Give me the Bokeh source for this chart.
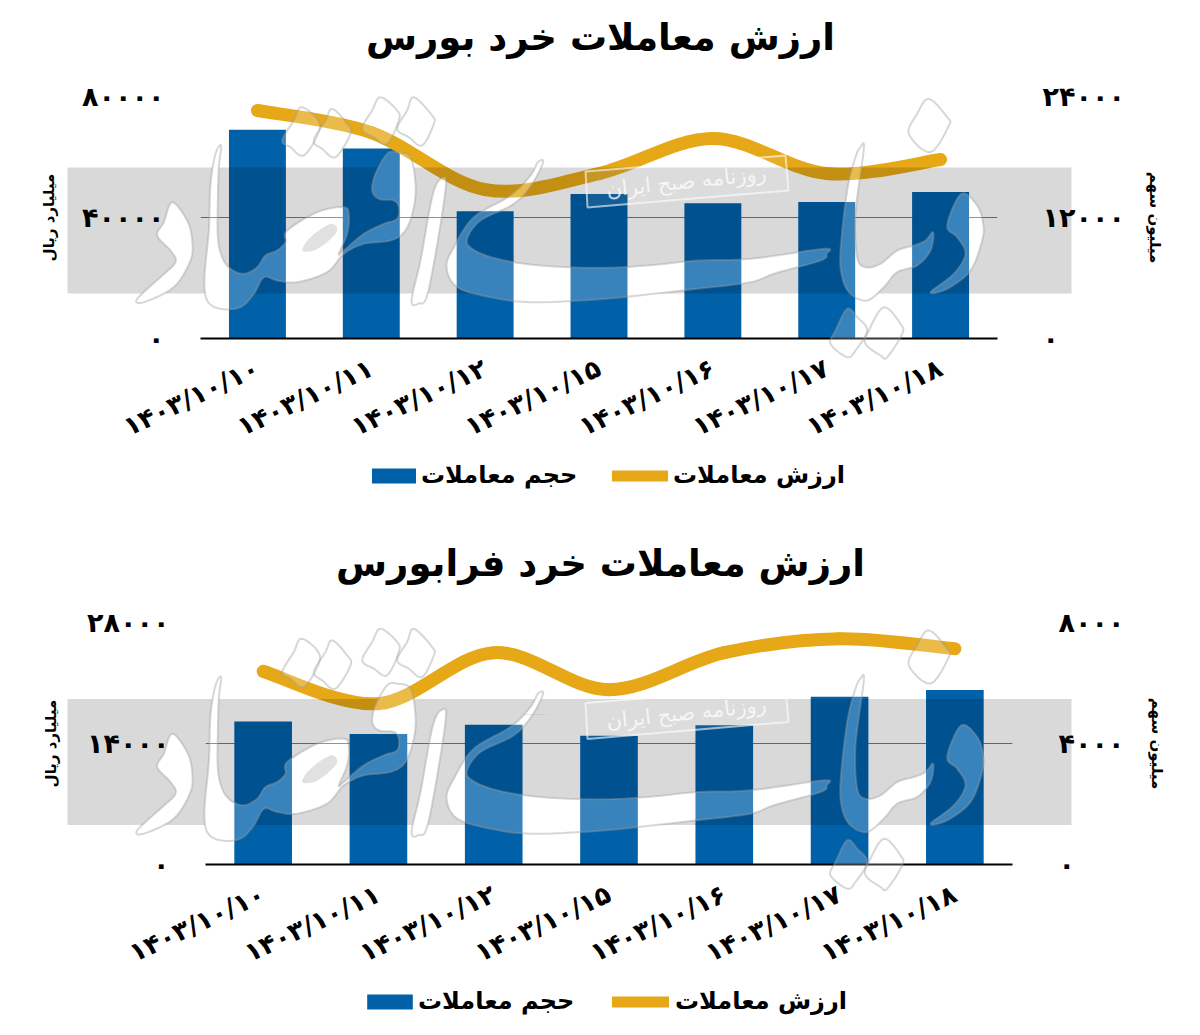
from bokeh.plotting import figure
from bokeh.embed import file_html
from bokeh.resources import INLINE
from bokeh.models import (Range1d, LinearAxis, FixedTicker, Grid, Legend, LegendItem,
                          Label, ColumnDataSource)
import math

dates = ["۱۴۰۳/۱۰/۱۰", "۱۴۰۳/۱۰/۱۱", "۱۴۰۳/۱۰/۱۲", "۱۴۰۳/۱۰/۱۵", "۱۴۰۳/۱۰/۱۶", "۱۴۰۳/۱۰/۱۷", "۱۴۰۳/۱۰/۱۸"]

title_top = "ارزش معاملات خرد بورس"
volume_top = [20694, 18837, 12611, 14339, 13405, 13545, 14537]
value_top = [75370, 68090, 49220, 54520, 66100, 54520, 59150]
left_ticks_top = {0: "۰", 40000: "۴۰۰۰۰", 80000: "۸۰۰۰۰"}
right_ticks_top = {0: "۰", 12000: "۱۲۰۰۰", 24000: "۲۴۰۰۰"}

title_bot = "ارزش معاملات خرد فرابورس"
volume_bot = [4731, 4315, 4622, 4259, 4600, 5547, 5768]
value_bot = [22346, 18612, 24507, 20230, 24507, 26126, 24970]
left_ticks_bot = {0: "۰", 14000: "۱۴۰۰۰", 28000: "۲۸۰۰۰"}
right_ticks_bot = {0: "۰", 4000: "۴۰۰۰", 8000: "۸۰۰۰"}

left_label = "میلیارد ریال"
right_label = "میلیون سهم"
legend_volume = "حجم معاملات"
legend_value = "ارزش معاملات"
stamp_text = "روزنامه صبح ایران"

BLUE = "#0060A8"
GOLD = "#E6A817"
FONT = "DejaVu Sans"
PAGE_W, PAGE_H = 1184, 1020
FIG_H = 510


# ---- watermark artwork (decoration, page pixels of the upper chart) ----
def z4(pts):
    return [(130 + x / 3, 90 + y / 3) for x, y in pts]
def z5(pts):
    return [(430 + x / 3, 150 + y / 3) for x, y in pts]
def z6(pts):
    return [(740 + x / 3, 90 + y / 3) for x, y in pts]


def rounded(pts, steps=6):
    """Closed Catmull-Rom outline through the traced points of the calligraphy."""
    out = []
    n = len(pts)
    for i in range(n):
        p0, p1, p2, p3 = pts[i - 1], pts[i], pts[(i + 1) % n], pts[(i + 2) % n]
        for s in range(steps):
            t = s / steps
            out.append(tuple(0.5 * (2 * p1[k] + (p2[k] - p0[k]) * t + (2 * p0[k] - 5 * p1[k] + 4 * p2[k] - p3[k]) * t * t
                                    + (3 * p1[k] - p0[k] - 3 * p2[k] + p3[k]) * t ** 3) for k in (0, 1)))
    return out


WM_SHAPES = [rounded(s) for s in [
    z4([(125, 335), (170, 390), (185, 450), (180, 510), (130, 590), (40, 635), (20, 625), (90, 560),
        (135, 515), (120, 480), (80, 435), (100, 395)]),
    z4([(272, 165), (265, 230), (262, 330), (262, 440), (275, 500), (300, 535), (340, 550), (380, 530),
        (405, 495), (440, 480), (465, 455), (470, 420), (560, 365), (640, 350), (655, 375), (650, 430),
        (625, 490), (640, 480), (700, 430), (760, 400), (800, 385), (805, 350), (790, 330), (745, 325),
        (725, 300), (735, 250), (770, 190), (800, 185), (840, 200), (855, 280), (850, 350), (825, 420),
        (780, 450), (700, 460), (640, 490), (590, 545), (500, 575), (440, 570), (400, 560), (370, 610),
        (330, 650), (270, 655), (230, 630), (222, 560), (235, 420), (240, 280), (255, 190)]),
    z4([(512, 50), (560, 85), (565, 125), (520, 195), (480, 170), (455, 150), (490, 90)]),
    z4([(605, 55), (650, 100), (660, 130), (615, 200), (575, 175), (550, 150), (585, 90)]),
    z4([(750, 20), (800, 60), (805, 90), (770, 160), (730, 140), (695, 115), (725, 60)]),
    z4([(850, 20), (905, 75), (910, 100), (875, 165), (835, 140), (800, 115), (830, 60)]),
    [(441, 178), (445, 190), (428, 290), (418, 303), (411, 300), (420, 260), (432, 195)],
    z5([(338, 35), (305, 100), (250, 160), (150, 210), (110, 265), (125, 295), (200, 325), (330, 345),
        (500, 352), (650, 345), (800, 330), (960, 325)])
    + z6([(250, 475), (258, 490), (240, 510), (100, 550)])
    + z5([(960, 395), (800, 415), (650, 432), (500, 447), (300, 455), (180, 440), (80, 410), (48, 350),
          (70, 290), (130, 200), (240, 135), (300, 75), (322, 35)]),
    z6([(360, 170), (370, 175), (345, 370), (350, 500), (375, 530), (420, 520), (470, 480), (520, 465),
        (555, 450), (578, 425), (570, 480), (530, 525), (470, 545), (430, 590), (380, 630), (330, 610),
        (305, 560), (300, 480), (320, 300), (345, 200)]),
    z6([(662, 310), (710, 345), (728, 400), (725, 450), (690, 540), (620, 595), (570, 605), (640, 550),
        (675, 490), (650, 440), (620, 405)]),
    z6([(320, 655), (350, 680), (380, 720), (345, 780), (320, 800), (270, 760), (285, 720)]),
    z6([(430, 650), (480, 700), (485, 730), (440, 800), (420, 795), (375, 760), (385, 720)]),
    z6([(565, 25), (620, 80), (625, 105), (570, 185), (505, 130), (530, 70)]),
]]
WM_COUNTER = rounded(z4([(515, 480), (540, 440), (600, 400), (620, 420), (590, 455), (550, 480)]))
BAND = (67, 167, 1071, 293)
STAMP_BOX = [(585, 171), (785, 155), (788, 190), (587, 207)]


def clip(poly, x0, y0, x1, y1):
    def run(pts, inside, cross):
        out = []
        for i, p in enumerate(pts):
            q = pts[i - 1]
            if inside(p):
                if not inside(q):
                    out.append(cross(q, p))
                out.append(p)
            elif inside(q):
                out.append(cross(q, p))
        return out
    def at_x(v):
        return lambda a, b: (v, a[1] + (b[1] - a[1]) * (v - a[0]) / (b[0] - a[0]))
    def at_y(v):
        return lambda a, b: (a[0] + (b[0] - a[0]) * (v - a[1]) / (b[1] - a[1]), v)
    for inside, cross in [(lambda p: p[0] >= x0, at_x(x0)), (lambda p: p[0] <= x1, at_x(x1)),
                          (lambda p: p[1] >= y0, at_y(y0)), (lambda p: p[1] <= y1, at_y(y1))]:
        if poly:
            poly = run(poly, inside, cross)
    return poly


def area(poly):
    return sum(poly[i - 1][0] * p[1] - p[0] * poly[i - 1][1] for i, p in enumerate(poly)) / 2


def band_outline():
    x0, y0, x1, y1 = BAND
    path = [(x0, y0)]
    for s in WM_SHAPES:
        h = clip(list(s), x0, y0, x1, y1)
        if len(h) < 3:
            continue
        if area(h) > 0:      # outer rectangle runs clockwise on screen: holes must run against it
            h = h[::-1]
        path += h + [h[0], (x0, y0)]
    return path + [(x1, y0), (x1, y1), (x0, y1)]


def add_watermark(ov, shift):
    def poly(pts, **kw):
        ov.patch([x for x, y in pts], [y + shift for x, y in pts], **kw)
    poly(band_outline(), fill_color="black", fill_alpha=0.15, line_alpha=0)
    poly(WM_COUNTER, fill_color="black", fill_alpha=0.15, line_alpha=0)
    for s in WM_SHAPES:
        poly(s, fill_color="white", fill_alpha=0.22, line_color="#9a9a9a", line_alpha=0.4, line_width=2)
    poly(STAMP_BOX, fill_color="white", fill_alpha=0.08, line_color="white", line_alpha=0.6, line_width=2)
    ov.add_layout(Label(x=686, y=181 + shift, text=stamp_text, text_font=FONT, text_font_size="21px",
                        text_color="white", text_alpha=0.75, text_align="center", text_baseline="middle",
                        angle=math.radians(6), angle_units="rad"))


def smooth_segments(ys):
    """Bezier handles for the smoothed line that passes through each value."""
    n = len(ys)
    seg = dict(x0=[], y0=[], x1=[], y1=[], cx0=[], cy0=[], cx1=[], cy1=[])
    for i in range(n - 1):
        prev_y, next_y = ys[max(i - 1, 0)], ys[min(i + 2, n - 1)]
        prev_x, next_x = max(i - 1, 0), min(i + 2, n - 1)
        seg["x0"].append(i); seg["y0"].append(ys[i])
        seg["x1"].append(i + 1); seg["y1"].append(ys[i + 1])
        seg["cx0"].append(i + (i + 1 - prev_x) / 6); seg["cy0"].append(ys[i] + (ys[i + 1] - prev_y) / 6)
        seg["cx1"].append(i + 1 - (next_x - i) / 6); seg["cy1"].append(ys[i + 1] - (next_y - ys[i]) / 6)
    return seg


def place(fig, top):
    fig.styles = {"position": "absolute", "left": "0px", "top": f"{top}px"}


def make_chart(volume, value, left_ticks, right_ticks, fleft, fwidth, ftop, fbottom, fig_top,
               left_title_gap, right_tick_gap, right_title_gap):
    left_max, right_max = max(left_ticks), max(right_ticks)
    p = figure(width=PAGE_W, height=FIG_H, output_backend="svg", toolbar_location=None,
               x_range=Range1d(-0.5, len(dates) - 0.5), y_range=Range1d(0, left_max),
               min_border_left=fleft, min_border_right=PAGE_W - fleft - fwidth,
               min_border_top=ftop - fig_top, min_border_bottom=fig_top + FIG_H - fbottom,
               outline_line_color=None, background_fill_color="white", border_fill_color="white")
    place(p, fig_top)
    p.grid.visible = False
    p.extra_y_ranges = {"vol": Range1d(0, right_max)}
    p.xaxis.visible = False
    p.yaxis.visible = False

    xa = LinearAxis(ticker=FixedTicker(ticks=list(range(len(dates)))),
                    major_label_overrides={i: d for i, d in enumerate(dates)},
                    major_label_orientation=math.radians(25), major_label_standoff=22,
                    major_label_text_font=FONT, major_label_text_font_style="bold",
                    major_label_text_font_size="26px", major_label_text_color="black",
                    axis_line_color="black", axis_line_width=2,
                    major_tick_line_color=None, minor_tick_line_color=None)
    p.add_layout(xa, "below")

    ya = LinearAxis(ticker=FixedTicker(ticks=list(left_ticks)), major_label_overrides=left_ticks,
                    major_label_standoff=30, major_label_text_font=FONT, major_label_text_font_style="bold",
                    major_label_text_font_size="27px", major_label_text_color="black",
                    axis_line_color=None, major_tick_line_color=None, minor_tick_line_color=None,
                    axis_label=left_label, axis_label_text_font=FONT, axis_label_text_font_style="bold",
                    axis_label_text_font_size="15px", axis_label_text_color="black", axis_label_standoff=left_title_gap)
    p.add_layout(ya, "left")

    yb = LinearAxis(y_range_name="vol", ticker=FixedTicker(ticks=list(right_ticks)),
                    major_label_overrides=right_ticks, major_label_standoff=right_tick_gap,
                    major_label_text_font=FONT, major_label_text_font_style="bold",
                    major_label_text_font_size="27px", major_label_text_color="black",
                    axis_line_color=None, major_tick_line_color=None, minor_tick_line_color=None,
                    axis_label=right_label, axis_label_text_font=FONT, axis_label_text_font_style="bold",
                    axis_label_text_font_size="15px", axis_label_text_color="black", axis_label_standoff=right_title_gap)
    p.add_layout(yb, "right")

    ticks = sorted(left_ticks)
    p.add_layout(Grid(dimension=1, axis=ya, ticker=FixedTicker(ticks=[ticks[2]]), grid_line_color="#bdbdbd", grid_line_width=2))
    p.add_layout(Grid(dimension=1, axis=ya, ticker=FixedTicker(ticks=[ticks[1]]), grid_line_color="#777777", grid_line_width=1))

    p.vbar(x=list(range(len(dates))), top=volume, width=0.5, y_range_name="vol", fill_color=BLUE, line_color=None)
    p.bezier(source=ColumnDataSource(smooth_segments(value)), x0="x0", y0="y0", x1="x1", y1="y1",
             cx0="cx0", cy0="cy0", cx1="cx1", cy1="cy1", line_color=GOLD, line_width=13, line_cap="round")
    return p


p1 = make_chart(volume_top, value_top, left_ticks_top, right_ticks_top, 200, 797, 96, 338, 0, 21, 39, 18)
p2 = make_chart(volume_bot, value_bot, left_ticks_bot, right_ticks_bot, 205, 807, 622, 864, FIG_H, 24, 40, 21)

# transparent sheet over both charts: page-pixel scale, holds titles, legends and the watermark
ov = figure(width=PAGE_W, height=PAGE_H, output_backend="svg", toolbar_location=None,
            x_range=Range1d(0, PAGE_W), y_range=Range1d(PAGE_H, 0),
            min_border=0, outline_line_color=None, background_fill_alpha=0, border_fill_alpha=0)
place(ov, 0)
ov.axis.visible = False
ov.grid.visible = False

add_watermark(ov, 0)
add_watermark(ov, 531.5)

for title, y in ((title_top, 37), (title_bot, 563)):
    ov.add_layout(Label(x=600, y=y, text=title, text_font=FONT, text_font_style="bold", text_font_size="37px",
                        text_color="black", text_align="center", text_baseline="middle"))

nan = float("nan")
key_bar = ov.vbar(x=[nan], top=[nan], width=1, fill_color=BLUE, line_color=None)
key_line = ov.line(x=[nan], y=[nan], line_color=GOLD, line_width=11, line_cap="round")


def key(label, renderer, x, y, swatch, swatch_h, gap):
    ov.add_layout(Legend(items=[LegendItem(label=label, renderers=[renderer])], location=(x, PAGE_H - y),
                         border_line_color=None, background_fill_alpha=0, label_text_font=FONT,
                         label_text_font_style="bold", label_text_font_size="24px", label_text_color="black",
                         glyph_width=swatch, glyph_height=swatch_h, padding=0, margin=0, label_standoff=gap), "center")


key(legend_volume, key_bar, 366, 489, 55, 19, 0)
key(legend_value, key_line, 612, 489, 56, 15, 5)
key(legend_volume, key_bar, 361, 1015, 57, 19, 0)
key(legend_value, key_line, 612, 1015, 57, 15, 6)

open("out.html", "w").write(file_html([p1, p2, ov], INLINE))
